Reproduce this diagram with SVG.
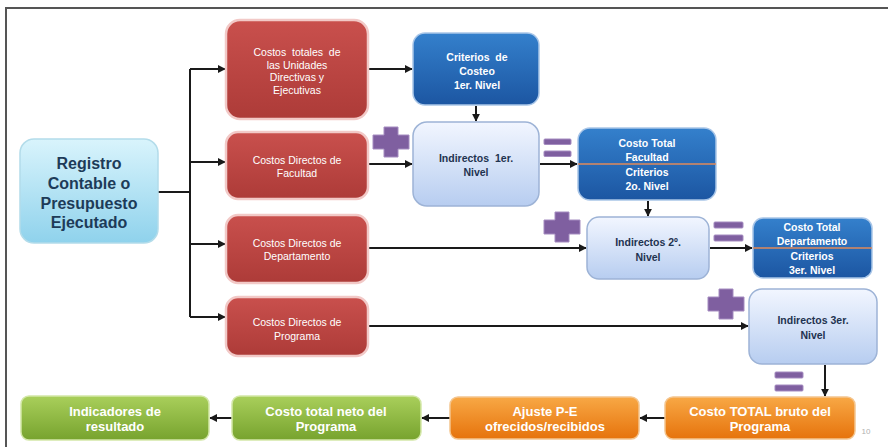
<svg xmlns="http://www.w3.org/2000/svg" width="888" height="447" viewBox="0 0 888 447">
<style>
.red{fill:url(#gRed);stroke:#f2c9c7;stroke-width:2.5}
.blue{fill:url(#gBlue);stroke:#a9c6e8;stroke-width:1.5}
.lb{fill:url(#gLB);stroke:#9db3d6;stroke-width:1.5}
.org{fill:url(#gOrg);stroke:#f4c58e;stroke-width:1.5}
.grn{fill:url(#gGrn);stroke:#d3e7a8;stroke-width:1.5}
.reg{fill:url(#gReg);stroke:#b3dcea;stroke-width:1.5}
text{font-family:"Liberation Sans",Arial,sans-serif;text-anchor:middle;dominant-baseline:central}
.tw{fill:#ffffff;font-size:10.5px}
.twb{fill:#ffffff;font-size:10.5px;font-weight:bold}
.tn{fill:#1f3350;font-size:10.5px;font-weight:bold}
.tb{fill:#ffffff;font-size:13px;font-weight:bold}
.treg{fill:#1d3b58;font-size:16px;font-weight:bold}
.ln{fill:none;stroke:#1a1a1a;stroke-width:2}
.sym{fill:#7f5fa0;stroke:#a58cc0;stroke-width:1}
.sep{stroke:#e08a5a;stroke-width:1.5}
</style>
<defs>
<linearGradient id="gRed" x1="0" y1="0" x2="0" y2="1"><stop offset="0" stop-color="#c9504d"/><stop offset="1" stop-color="#ad3b38"/></linearGradient>
<linearGradient id="gBlue" x1="0" y1="0" x2="0" y2="1"><stop offset="0" stop-color="#3480cc"/><stop offset="1" stop-color="#1c56a2"/></linearGradient>
<linearGradient id="gLB" x1="0" y1="0" x2="0" y2="1"><stop offset="0" stop-color="#f2f6ff"/><stop offset="1" stop-color="#b7cdf0"/></linearGradient>
<linearGradient id="gOrg" x1="0" y1="0" x2="0" y2="1"><stop offset="0" stop-color="#f8a845"/><stop offset="1" stop-color="#e6730c"/></linearGradient>
<linearGradient id="gGrn" x1="0" y1="0" x2="0" y2="1"><stop offset="0" stop-color="#a9cf5b"/><stop offset="1" stop-color="#77a32e"/></linearGradient>
<linearGradient id="gReg" x1="0" y1="0" x2="0" y2="1"><stop offset="0" stop-color="#d9f4fc"/><stop offset="1" stop-color="#8fd2ec"/></linearGradient>
<marker id="arr" viewBox="0 0 10 10" refX="9" refY="5" markerWidth="4" markerHeight="4" orient="auto"><path d="M0,0 L10,5 L0,10 z" fill="#1a1a1a"/></marker>
<path id="plus" d="M-7,-15 H7 V-7 H18 V7 H7 V15 H-7 V7 H-18 V-7 H-7 Z"/>
</defs>
<rect width="888" height="447" fill="#ffffff"/>
<path d="M6,447 V8 H888" fill="none" stroke="#555" stroke-width="2"/>

<g id="connectors">
<path class="ln" d="M158,192 H190"/>
<path class="ln" d="M190,69 V317"/>
<path class="ln" d="M190,69 H225" marker-end="url(#arr)"/>
<path class="ln" d="M190,162 H225" marker-end="url(#arr)"/>
<path class="ln" d="M190,244 H225" marker-end="url(#arr)"/>
<path class="ln" d="M190,317 H225" marker-end="url(#arr)"/>
<path class="ln" d="M369,69 H412" marker-end="url(#arr)"/>
<path class="ln" d="M476,106 V121" marker-end="url(#arr)"/>
<path class="ln" d="M369,164 H412" marker-end="url(#arr)"/>
<path class="ln" d="M540,164 H577" marker-end="url(#arr)"/>
<path class="ln" d="M648,201 V216" marker-end="url(#arr)"/>
<path class="ln" d="M369,248 H586" marker-end="url(#arr)"/>
<path class="ln" d="M710,248 H752" marker-end="url(#arr)"/>
<path class="ln" d="M369,326 H748" marker-end="url(#arr)"/>
<path class="ln" d="M825,365 V396" marker-end="url(#arr)"/>
<path class="ln" d="M665,418 H640" marker-end="url(#arr)"/>
<path class="ln" d="M450,418 H422" marker-end="url(#arr)"/>
<path class="ln" d="M232,418 H210" marker-end="url(#arr)"/>
</g>

<g id="registro">
<rect class="reg" x="20" y="139" width="138" height="104" rx="14"/>
<text class="treg" x="89" y="163">Registro</text>
<text class="treg" x="89" y="183">Contable o</text>
<text class="treg" x="89" y="203">Presupuesto</text>
<text class="treg" x="89" y="222">Ejecutado</text>
</g>

<g id="costos-totales">
<rect class="red" x="226" y="20" width="142" height="99" rx="14"/>
<text class="tw" x="297" y="52" xml:space="preserve">Costos  totales  de</text>
<text class="tw" x="297" y="64.5">las Unidades</text>
<text class="tw" x="297" y="77">Directivas y</text>
<text class="tw" x="297" y="89.5">Ejecutivas</text>
</g>
<g id="costos-facultad">
<rect class="red" x="226" y="132" width="142" height="67" rx="12"/>
<text class="tw" x="297" y="160">Costos Directos de</text>
<text class="tw" x="297" y="173">Facultad</text>
</g>
<g id="costos-departamento">
<rect class="red" x="226" y="215" width="142" height="68" rx="12"/>
<text class="tw" x="297" y="243">Costos Directos de</text>
<text class="tw" x="297" y="256">Departamento</text>
</g>
<g id="costos-programa">
<rect class="red" x="226" y="297" width="142" height="59" rx="12"/>
<text class="tw" x="297" y="322">Costos Directos de</text>
<text class="tw" x="297" y="336">Programa</text>
</g>

<g id="criterios-1">
<rect class="blue" x="413" y="33" width="126" height="72" rx="12"/>
<text class="twb" x="477" y="57" xml:space="preserve">Criterios  de</text>
<text class="twb" x="477" y="71">Costeo</text>
<text class="twb" x="477" y="85">1er. Nivel</text>
</g>
<g id="indirectos-1">
<rect class="lb" x="413" y="122" width="126" height="84" rx="14"/>
<text class="tn" x="476" y="158" xml:space="preserve">Indirectos  1er.</text>
<text class="tn" x="476" y="172">Nivel</text>
</g>
<g id="costo-facultad">
<rect class="blue" x="578" y="128" width="138" height="72" rx="12"/>
<line class="sep" x1="578" y1="164" x2="716" y2="164"/>
<text class="twb" x="647" y="143">Costo Total</text>
<text class="twb" x="647" y="157">Facultad</text>
<text class="twb" x="647" y="172">Criterios</text>
<text class="twb" x="647" y="186">2o. Nivel</text>
</g>
<g id="indirectos-2">
<rect class="lb" x="587" y="217" width="122" height="62" rx="12"/>
<text class="tn" x="648" y="242">Indirectos 2º.</text>
<text class="tn" x="648" y="257">Nivel</text>
</g>
<g id="costo-departamento">
<rect class="blue" x="753" y="218" width="119" height="60" rx="10"/>
<line class="sep" x1="753" y1="248" x2="872" y2="248"/>
<text class="twb" x="812" y="227">Costo Total</text>
<text class="twb" x="812" y="240.5">Departamento</text>
<text class="twb" x="812" y="256">Criterios</text>
<text class="twb" x="812" y="269.5">3er. Nivel</text>
</g>
<g id="indirectos-3">
<rect class="lb" x="749" y="289" width="128" height="75" rx="13"/>
<text class="tn" x="813" y="320">Indirectos 3er.</text>
<text class="tn" x="813" y="335">Nivel</text>
</g>

<g id="costo-bruto">
<rect class="org" x="665" y="397" width="190" height="42" rx="8"/>
<text class="tb" x="760" y="411">Costo TOTAL bruto del</text>
<text class="tb" x="760" y="426">Programa</text>
</g>
<g id="ajuste">
<rect class="org" x="450" y="397" width="189" height="42" rx="8"/>
<text class="tb" x="545" y="411">Ajuste P-E</text>
<text class="tb" x="545" y="426">ofrecidos/recibidos</text>
</g>
<g id="costo-neto">
<rect class="grn" x="232" y="396" width="189" height="44" rx="8"/>
<text class="tb" x="326" y="411">Costo total neto del</text>
<text class="tb" x="326" y="426">Programa</text>
</g>
<g id="indicadores">
<rect class="grn" x="21" y="396" width="188" height="44" rx="8"/>
<text class="tb" x="115" y="411">Indicadores de</text>
<text class="tb" x="115" y="426">resultado</text>
</g>

<g id="symbols">
<use href="#plus" class="sym" transform="translate(391,142)"/>
<use href="#plus" class="sym" transform="translate(562,227)"/>
<use href="#plus" class="sym" transform="translate(726,304)"/>
<rect class="sym" x="544" y="139" width="27" height="5.5" rx="1"/>
<rect class="sym" x="544" y="151" width="27" height="5.5" rx="1"/>
<rect class="sym" x="714" y="222" width="29" height="6" rx="1"/>
<rect class="sym" x="714" y="235" width="29" height="6" rx="1"/>
<rect class="sym" x="775" y="372" width="28" height="6" rx="1"/>
<rect class="sym" x="775" y="385" width="28" height="6" rx="1"/>
</g>
<text x="866" y="431" style="font-size:8px;fill:#b0b0b0">10</text>
</svg>
